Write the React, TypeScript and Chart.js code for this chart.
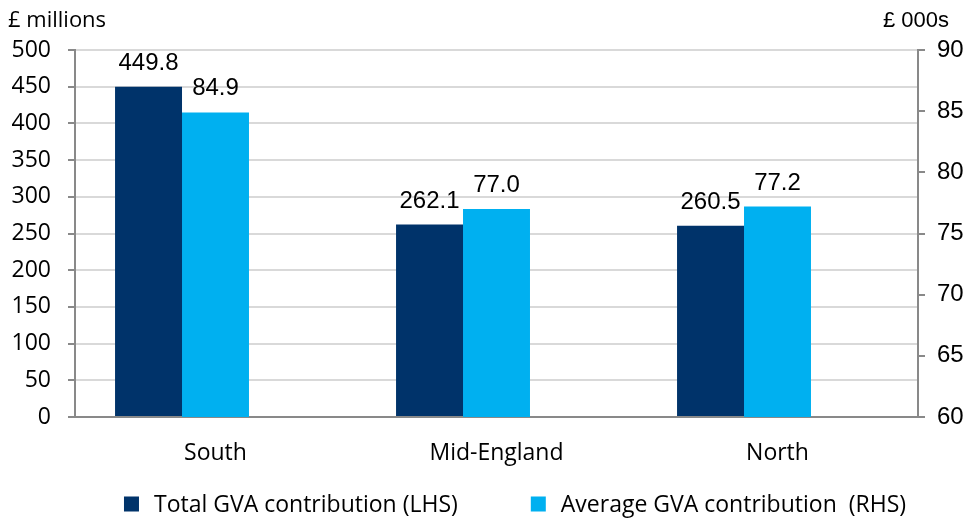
import React, { useEffect, useRef } from "react";
import { Chart, registerables } from "chart.js";
Chart.register(...registerables);

const categories = ["South", "Mid-England", "North"];
const totalGVA = [449.8, 262.1, 260.5];
const avgGVA = [84.9, 77.0, 77.2];
const seriesLabels = ["Total GVA contribution (LHS)", "Average GVA contribution  (RHS)"];
const leftTitle = "£ millions";
const rightTitle = "£ 000s";
const leftRange = { min: 0, max: 500, step: 50 };
const rightRange = { min: 60, max: 90, step: 5 };

const DARK = "#00336A";
const LIGHT = "#00B0F0";
const GRID = "#D9D9D9";
const AXIS = "#898989";
const SEGOE = "'Open Sans', 'Noto Sans', sans-serif";
const ARIAL = "'Liberation Sans', Arial, sans-serif";

const extrasPlugin = {
  id: "extras",
  afterDatasetsDraw(chart: any) {
    const ctx = chart.ctx;
    ctx.save();
    ctx.fillStyle = "#000";
    ctx.font = `24px ${ARIAL}`;
    ctx.textAlign = "center";
    ctx.textBaseline = "alphabetic";
    chart.data.datasets.forEach((ds: any, di: number) => {
      if (ds.spacer) return;
      const meta = chart.getDatasetMeta(di);
      meta.data.forEach((el: any, i: number) => {
        const v = ds.data[i];
        if (v == null) return;
        ctx.fillText(Number(v).toFixed(1), el.x, el.y - 17);
      });
    });
    ctx.textAlign = "left";
    ctx.font = `22px ${SEGOE}`;
    ctx.fillText(leftTitle, 8, 27);
    ctx.textAlign = "right";
    ctx.font = `22px ${ARIAL}`;
    ctx.fillText(rightTitle, 949, 27);
    // legend
    ctx.font = `23px ${SEGOE}`;
    ctx.textAlign = "left";
    ctx.textBaseline = "middle";
    const box = 15;
    const gapBoxText = 15;
    const gapItems = 73;
    const items = chart.data.datasets
      .filter((ds: any) => !ds.spacer)
      .map((ds: any) => ({
        label: ds.label,
        color: ds.backgroundColor,
        w: box + gapBoxText + ctx.measureText(ds.label).width,
      }));
    const total = items.reduce((s: number, it: any) => s + it.w, 0) + gapItems * (items.length - 1);
    let x = 515 - total / 2;
    const cy = 504;
    items.forEach((it: any) => {
      ctx.fillStyle = it.color;
      ctx.fillRect(x, cy - box / 2, box, box);
      ctx.fillStyle = "#000";
      ctx.fillText(it.label, x + box + gapBoxText, cy + 1);
      x += it.w + gapItems;
    });
    ctx.restore();
  },
};

export default function App() {
  const ref = useRef<HTMLCanvasElement>(null);
  useEffect(() => {
    let chart: any = null;
    let cancelled = false;
    const build = () => {
      if (cancelled || !ref.current) return;
      chart = new Chart(ref.current, {
        type: "bar",
        data: {
          labels: categories,
          datasets: [
            { label: seriesLabels[0], data: totalGVA, backgroundColor: DARK, yAxisID: "yL", categoryPercentage: 0.715, barPercentage: 1 },
            { label: seriesLabels[1], data: avgGVA, backgroundColor: LIGHT, yAxisID: "yR", categoryPercentage: 0.715, barPercentage: 1 },
            { label: "", spacer: true, data: categories.map(() => null), backgroundColor: "rgba(0,0,0,0)", yAxisID: "yL", categoryPercentage: 0.715, barPercentage: 1 } as any,
          ],
        },
        options: {
          animation: false,
          responsive: false,
          maintainAspectRatio: false,
          layout: { padding: { top: 50, left: 0, right: 0, bottom: 0 } },
          plugins: { legend: { display: false }, tooltip: { enabled: false } },
          scales: {
            x: {
              grid: { display: false, drawTicks: false },
              border: { display: true, color: AXIS, width: 2 },
              ticks: { color: "#000", font: { family: SEGOE, size: 23 }, padding: 23 },
              afterFit: (s: any) => { s.height = 105; },
            },
            yL: {
              position: "left",
              min: leftRange.min,
              max: leftRange.max,
              ticks: { stepSize: leftRange.step, color: "#000", font: { family: SEGOE, size: 23 }, padding: 17 },
              grid: { color: GRID, lineWidth: 2, tickColor: AXIS, tickLength: 7, drawTicks: true },
              border: { color: AXIS, width: 2 },
              afterFit: (s: any) => { s.width = 75; },
            },
            yR: {
              position: "right",
              min: rightRange.min,
              max: rightRange.max,
              ticks: { stepSize: rightRange.step, color: "#000", font: { family: ARIAL, size: 24 }, padding: 12 },
              grid: { drawOnChartArea: false, tickColor: AXIS, tickLength: 7, lineWidth: 2 },
              border: { color: AXIS, width: 2 },
              afterFit: (s: any) => { s.width = 50; },
            },
          },
        },
        plugins: [extrasPlugin],
      });
    };
    const fontsReady = (document as any).fonts
      ? Promise.all([
          (document as any).fonts.load("23px 'Open Sans'"),
          (document as any).fonts.load("24px 'Liberation Sans'"),
        ]).catch(() => null)
      : Promise.resolve(null);
    fontsReady.then(build);
    return () => {
      cancelled = true;
      if (chart) chart.destroy();
    };
  }, []);
  return (
    <div style={{ position: "absolute", left: 0, top: 0, width: 968, height: 522, background: "#fff" }}>
      <canvas ref={ref} width={968} height={522} style={{ width: 968, height: 522 }} />
    </div>
  );
}
